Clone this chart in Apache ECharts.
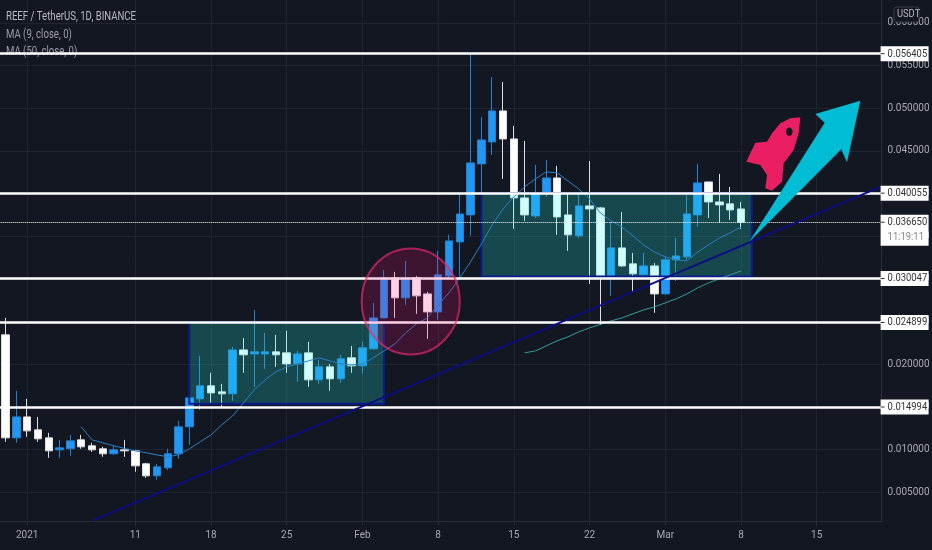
<!DOCTYPE html>
<html><head><meta charset="utf-8">
<style>html,body{margin:0;padding:0;background:#131722}#c{width:932px;height:550px}</style>
<script src="https://cdn.jsdelivr.net/npm/echarts@6/dist/echarts.min.js"></script>
</head><body><div id="c"></div>
<script>
var opens=[.02345,.01138,.01384,.01232,.01138,.00998,.0101,.01115,.01045,.0101,.00951,.00998,.00986,.00834,.00693,.00787,.00951,.01267,.01595,.01748,.01677,.01654,.02169,.02122,.02122,.02146,.02134,.02005,.02134,.01818,.0197,.0183,.02076,.01982,.02181,.02544,.03013,.02779,.03013,.02825,.02614,.03036,.03434,.03751,.04348,.04606,.04969,.04641,.0395,.03739,.04009,.04184,.03751,.03505,.03856,.03833,.03036,.03364,.03177,.03048,.03153,.02825,.03224,.03259,.03751,.04137,.03903,.0388,.03821];
var closes=[.01138,.01384,.0122,.01127,.00986,.01021,.01103,.01033,.00998,.00951,.00998,.00986,.0081,.00693,.00799,.00951,.01267,.01607,.01748,.01665,.01654,.02169,.02111,.02146,.02146,.02111,.02005,.02122,.01818,.0197,.0183,.02064,.01982,.02193,.02544,.03013,.02779,.03013,.02802,.02614,.03048,.03446,.03762,.0436,.04629,.04969,.04641,.0395,.03751,.04009,.04184,.03727,.03517,.03856,.03821,.03036,.03364,.03153,.0306,.03153,.02825,.03224,.0327,.03762,.04126,.03903,.03868,.03809,.03665];
var lows=[.01092,.0108,.0115,.01092,.00904,.00904,.00927,.0101,.00974,.00916,.00939,.00916,.0074,.0067,.00646,.00764,.00892,.01056,.01466,.01548,.0149,.01572,.019,.01736,.01947,.0197,.019,.01794,.01736,.01771,.01689,.01783,.019,.01888,.02175,.0254,.02544,.02696,.02591,.02298,.02521,.03001,.03024,.03505,.03962,.04454,.04173,.03587,.03681,.03716,.03962,.03517,.03329,.03481,.02942,.02462,.02802,.03142,.02837,.03036,.02603,.02815,.02978,.03224,.0361,.03716,.03657,.03692,.03587];
var highs=[.02544,.01689,.01595,.01384,.01197,.01115,.01173,.01173,.0108,.01033,.01045,.01115,.00998,.00846,.00834,.0101,.01337,.0161,.02099,.019,.01771,.02204,.0231,.02638,.02368,.02345,.02392,.02158,.02263,.02052,.02005,.02111,.02216,.02263,.0272,.03106,.03083,.03212,.03036,.02849,.03329,.03517,.04009,.0564,.04899,.05367,.05309,.04793,.04618,.04337,.04395,.04325,.04009,.04009,.04383,.03844,.03669,.03786,.03306,.03306,.03188,.03259,.03481,.03985,.04348,.0414,.04231,.04079,.03903];
var ma9=[null,null,null,null,null,null,null,.01267,.01115,.0108,.01045,.01015,.00986,.00963,.00939,.00916,.00939,.0101,.01092,.01173,.01291,.01396,.01548,.01701,.01818,.01912,.0197,.02005,.0204,.02076,.0204,.02005,.01994,.02005,.02076,.02158,.0224,.02368,.02474,.02544,.02696,.02837,.03013,.032,.03411,.03634,.03821,.03962,.04079,.04173,.04255,.04243,.04149,.04055,.03938,.03774,.03681,.0361,.03505,.03399,.03317,.03259,.03224,.03212,.03317,.03399,.03481,.0354,.0361];
var ma50=[.02134,.02158,.02216,.02275,.02322,.0238,.02427,.02468,.02509,.02544,.02591,.02638,.02673,.0272,.02767,.02825,.02896,.02954,.03001,.03048,.03095];
var ma50Start=48;
var tickIndex=[3,13,20,27,34,41,48,55,62,69,76];
var tickLabels=['2021','11','18','25','Feb','8','15','22','Mar','8','15'];
var levels=[.056405,.040055,.030047,.024899,.014994];
var lastPrice=.03665;
var countdown='11:19:11';
var trendPoints=[[9,.00166],[82,.04085]];
var boxes=[[18,.02497,36,.01537],[45,.04008,70,.0303]];
var yTicks=[.005,.01,.015,.02,.025,.03,.035,.04,.045,.05,.055,.06];

var bg='#131722',grid='#20242f',axisText='#a6a9b2',F='Roboto';
var cats=[];for(var i=0;i<83;i++){var k=tickIndex.indexOf(i);cats.push(k>=0?tickLabels[k]:'');}
var isTick=function(i){return tickIndex.indexOf(i)>=0;};
var candle=[['-','-','-','-']];
opens.forEach(function(o,i){candle.push([o,closes[i],lows[i],highs[i]]);});
var ma50Data=[];for(i=0;i<ma50Start+1;i++)ma50Data.push(null);ma50Data=ma50Data.concat(ma50);
function tag(api,v,h,extra){
  var p=api.coord([82,v]),x=p[0]-1,y=p[1];
  var ch=[{type:'rect',shape:{x:x,y:y-7.5,width:48,height:h},style:{fill:'#fff'}},
    {type:'line',shape:{x1:x,y1:y,x2:x+4,y2:y},style:{stroke:'#333',lineWidth:1}},
    {type:'text',x:x+7,y:y,scaleX:.82,style:{text:v.toFixed(6),x:0,y:0,fill:'#333',font:'11.5px '+F,textVerticalAlign:'middle'}}];
  if(extra)ch.push({type:'text',x:x+7,y:y+15,scaleX:.82,style:{text:extra,x:0,y:0,fill:'#888',font:'11.5px '+F,textVerticalAlign:'middle'}});
  return {type:'group',children:ch};
}
var chart=echarts.init(document.getElementById('c'));
chart.setOption({
  backgroundColor:bg,animation:false,
  grid:{left:-5.3,top:0,width:886.9,height:521.5,containLabel:false,outerBoundsMode:'none'},
  xAxis:{type:'category',boundaryGap:false,data:cats,
    axisLine:{lineStyle:{color:'#2a2e39',width:1}},
    axisTick:{show:true,alignWithLabel:true,interval:function(i){return isTick(i);},length:4,lineStyle:{color:'#2a2e39'}},
    axisLabel:{interval:function(i){return isTick(i);},color:axisText,fontFamily:F,fontSize:10,margin:9},
    splitLine:{show:true,interval:function(i){return isTick(i);},lineStyle:{color:grid,width:1}}},
  yAxis:{type:'value',position:'right',min:.00158,max:.06269,
    axisLine:{show:true,lineStyle:{color:'#2a2e39',width:1}},
    axisTick:{show:false,customValues:yTicks},
    axisLabel:{color:axisText,fontFamily:F,fontSize:10,margin:6,customValues:yTicks,
      formatter:function(v){return v.toFixed(6);}},
    splitLine:{show:true,lineStyle:{color:grid,width:1}}},
  series:[
    {name:'REEF / TetherUS',type:'candlestick',z:2,barWidth:8,clip:false,data:candle,
      itemStyle:{color:'#2196f3',color0:'#ffffff',borderColor:'#2180cf',borderColor0:'#dcdde1',borderWidth:1}},
    {name:'boxes',type:'custom',z:3,data:boxes,encode:{x:[0,2],y:[1,3]},
      renderItem:function(p,api){var a=api.coord([api.value(0),api.value(1)]),b=api.coord([api.value(2),api.value(3)]);
        return {type:'rect',shape:{x:a[0],y:a[1],width:b[0]-a[0],height:b[1]-a[1]},
          style:{fill:'rgba(36,249,243,0.215)',stroke:'#0a1a90',lineWidth:2}};}},
    {name:'MA (9, close, 0)',type:'line',z:4,data:[null].concat(ma9),symbol:'none',connectNulls:false,lineStyle:{color:'#2a80c4',width:1}},
    {name:'MA (50, close, 0)',type:'line',z:4,data:ma50Data,symbol:'none',lineStyle:{color:'#2f9f98',width:1}},
    {name:'trend',type:'line',z:5,data:trendPoints,symbol:'none',lineStyle:{color:'#0e0e84',width:2}},
    {name:'levels',type:'line',z:6,data:[],
      markLine:{silent:true,symbol:'none',animation:false,precision:6,label:{show:false},lineStyle:{color:'#fff',width:2.5,type:'solid'},
        data:levels.map(function(v){return {yAxis:v};}).concat([{yAxis:lastPrice,lineStyle:{color:'#ffffff',width:1,type:'dotted'}}])}},
    {name:'tags',type:'custom',z:30,clip:false,data:levels.map(function(v){return [82,v];}),encode:{x:0,y:1},
      renderItem:function(p,api){return tag(api,api.value(1),15);}},
    {name:'lastTag',type:'custom',z:30,clip:false,data:[[82,lastPrice]],encode:{x:0,y:1},
      renderItem:function(p,api){return tag(api,api.value(1),31,countdown);}}
  ],
  graphic:[
    {type:'text',z:1,x:6,y:11,scaleX:.8,style:{text:'REEF / TetherUS, 1D, BINANCE',fill:'#b7bac2',font:'12px '+F}},
    {type:'text',z:1,x:6,y:29,scaleX:.8,style:{text:'MA (9, close, 0)',fill:'#9a9da6',font:'12px '+F}},
    {type:'text',z:1,x:6,y:46,scaleX:.8,style:{text:'MA (50, close, 0)',fill:'#9a9da6',font:'12px '+F}},
    {type:'ellipse',z:20,shape:{cx:410.7,cy:301.5,rx:49,ry:53},style:{fill:'rgba(245,18,118,0.19)',stroke:'rgba(226,40,110,0.7)',lineWidth:2}},
    {type:'polygon',z:21,shape:{points:[[800.3,117.3],[790.3,118.3],[780.3,123.3],[772,133.3],[767,141.7],[755.3,142.7],[746.3,161.7],[760.3,165],[767,175],[765.3,188.3],[772,190.7],[782,181.7],[783.7,163.3],[793.7,150],[798.7,133.3]]},style:{fill:'#e91e63'}},
    {type:'ellipse',z:22,shape:{cx:789.3,cy:131.7,rx:3.3,ry:4.2},style:{fill:'#1b1722'}},
    {type:'polygon',z:21,shape:{points:[[749.3,241.7],[824.7,122.7],[815.3,114],[860.3,100.7],[847,162.3],[841.3,149.3]]},style:{fill:'#00bcd4'}},
    {type:'rect',z:31,shape:{x:894,y:7,width:25,height:15,r:3},style:{fill:'#131722',stroke:'#363a45',lineWidth:1}},
    {type:'text',z:32,x:897,y:9,scaleX:.85,style:{text:'USDT',fill:'#b2b5be',font:'11px '+F}}
  ]
});
</script></body></html>
